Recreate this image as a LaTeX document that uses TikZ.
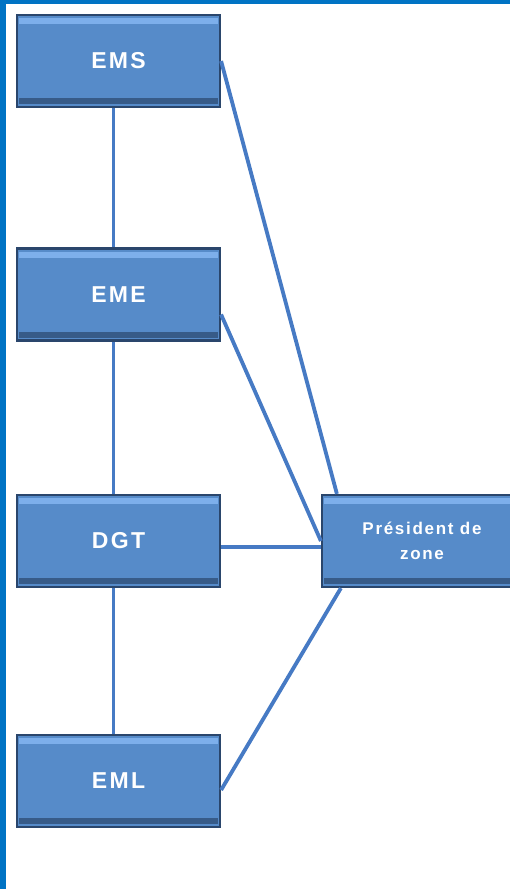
\documentclass[tikz,border=0pt]{standalone}
\usepackage{fontspec}
\setmainfont{Liberation Sans}
\usepackage{tikz}
\usetikzlibrary{calc}

\definecolor{framebl}{RGB}{0,115,196}
\definecolor{boxbl}{RGB}{86,139,201}
\definecolor{boxedge}{RGB}{42,70,108}
\definecolor{boxtop}{RGB}{125,175,235}
\definecolor{linkbl}{RGB}{70,122,196}

\begin{document}
\begin{tikzpicture}[x=1pt,y=-1pt,
    unit/.style={draw=boxedge,fill=boxbl,line width=2.2pt,minimum width=203pt,
      minimum height=92pt,inner sep=0pt,text=white,
      font=\fontsize{23}{25}\selectfont\bfseries\addfontfeature{LetterSpace=10},
      path picture={\fill[boxtop] ([shift={(2pt,-3pt)}]path picture bounding box.north west)
        rectangle ([shift={(-2pt,-9pt)}]path picture bounding box.north east);
        \fill[boxedge!70!boxbl] ([shift={(2pt,3pt)}]path picture bounding box.south west)
        rectangle ([shift={(-2pt,9pt)}]path picture bounding box.south east);}},
    link/.style={draw=linkbl,line width=3.8pt}]
          \useasboundingbox (0,0) rectangle (510,889);
          \clip (0,0) rectangle (510,889);
          \fill[white] (0,0) rectangle (510,889);
          \fill[framebl] (0,0) rectangle (6,889);
          \fill[framebl] (0,0) rectangle (510,4);
          % colonne de gauche
          \node[unit] (EMS) at (118.5,61) {EMS};
          \node[unit] (EME) at (118.5,294.5) {EME};
          \node[unit] (DGT) at (118.5,541) {DGT};
          \node[unit] (EML) at (118.5,781) {EML};
          \node[unit,minimum width=200pt,align=center,
            font=\fontsize{17}{25}\selectfont\bfseries\addfontfeature{LetterSpace=10}]
            (PZ) at (422,541) {Président de\\zone};
          % liens
          \draw[link] ([xshift=-5pt]EMS.south) -- ([xshift=-5pt]EME.north);
          \draw[link] ([xshift=-5pt]EME.south) -- ([xshift=-5pt]DGT.north);
          \draw[link] ([xshift=-5pt]DGT.south) -- ([xshift=-5pt]EML.north);
          \draw[link] (EMS.east) -- ([xshift=16pt]PZ.north west);
          \draw[link] ([yshift=-20pt]EME.east) -- (PZ.west);
          \draw[link] ([yshift=-6pt]DGT.east) -- ([yshift=-6pt]PZ.west);
          \draw[link] ([yshift=-9pt]EML.east) -- ([xshift=20pt]PZ.south west);
        \end{tikzpicture}
\end{document}
